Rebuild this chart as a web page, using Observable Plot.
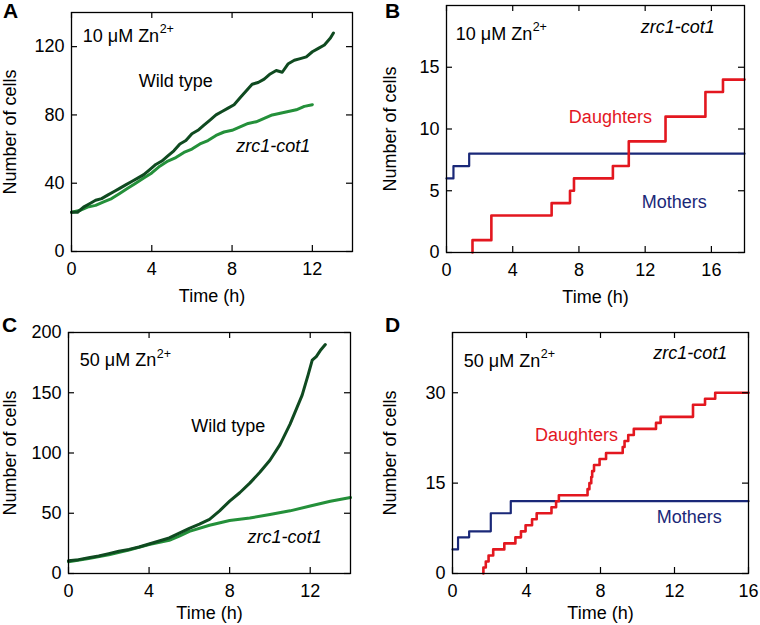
<!DOCTYPE html>
<html><head><meta charset="utf-8">
<script src="https://cdn.jsdelivr.net/npm/d3@7"></script>
<script src="https://cdn.jsdelivr.net/npm/@observablehq/plot@0.6"></script>
<style>
body{margin:0;background:#fff;}
#fig{position:relative;width:760px;height:625px;font-family:"Liberation Sans",Arial,sans-serif;overflow:hidden;}
.panel{position:absolute;}
.letter{position:absolute;font:bold 21px/21px "Liberation Sans",Arial,sans-serif;color:#000;}
</style></head><body><div id="fig"></div>
<script>
// ---------- Panel A: 10 µM Zn, growth curves ----------
const wtA_t = [0, 0.3, 0.6, 0.9, 1.2, 1.5, 1.8, 2.1, 2.4, 2.7, 3.0, 3.3, 3.6, 3.9, 4.2, 4.5, 4.8, 5.1, 5.4, 5.7, 6.0, 6.3, 6.6, 6.9, 7.2, 7.5, 7.8, 8.1, 8.4, 8.7, 9.0, 9.3, 9.6, 9.9, 10.2, 10.5, 10.8, 11.1, 11.4, 11.7, 12.0, 12.3, 12.6, 12.9, 13.05];
const wtA_n = [23, 23, 26, 28, 30, 31, 33, 35, 37, 39, 41, 43, 45, 48, 51, 53, 56, 59, 63, 65, 69, 71, 74, 77, 80, 82, 84, 86, 90, 94, 98, 99, 101, 104, 106, 105, 110, 112, 113, 114, 117, 119, 121, 125, 128];
const zrA_t = [0, 0.4, 0.8, 1.2, 1.6, 2.0, 2.4, 2.8, 3.2, 3.6, 4.0, 4.4, 4.8, 5.2, 5.6, 6.0, 6.4, 6.8, 7.2, 7.6, 8.0, 8.4, 8.8, 9.2, 9.6, 10.0, 10.4, 10.8, 11.2, 11.6, 12.0];
const zrA_n = [23, 24, 26, 27, 29, 31, 34, 37, 40, 43, 46, 50, 53, 55, 58, 60, 63, 65, 68, 70, 71, 73, 75, 76, 78, 80, 81, 82, 83, 85, 86];

// ---------- Panel B: 10 µM Zn, zrc1-cot1 mothers / daughters ----------
const dauB_t = [1.57, 1.57, 2.71, 6.35, 7.46, 7.70, 10.05, 11.01, 13.23, 15.64, 16.7, 18];
const dauB_n = [0, 1, 3, 4, 5, 6, 7, 9, 11, 13, 14, 14];
const momB_t = [0, 0.42, 1.37, 18];
const momB_n = [6, 7, 8, 8];

// ---------- Panel C: 50 µM Zn, growth curves ----------
const wtC_t = [0, 0.5, 1.0, 1.5, 2.0, 2.5, 3.0, 3.5, 4.0, 4.5, 5.0, 5.5, 6.0, 6.5, 7.0, 7.5, 8.0, 8.5, 9.0, 9.5, 10.0, 10.5, 11.0, 11.3, 11.6, 11.9, 12.1, 12.3, 12.5, 12.75];
const wtC_n = [10.5, 11.5, 13, 14.5, 16.5, 18.5, 20, 22, 24.5, 27, 29.5, 33.5, 37.5, 41, 45, 52, 60, 67, 75, 84, 94, 107, 124, 136, 148, 165, 177, 180, 185, 190];
const zrC_t = [0, 1, 2, 3, 4, 5, 5.5, 6, 7, 8, 9, 10, 11, 12, 13, 14];
const zrC_n = [9.7, 12.5, 15.5, 19.5, 24, 27.5, 31, 35, 40, 44, 46, 49, 52, 56, 60, 63];

// ---------- Panel D: 50 µM Zn, zrc1-cot1 mothers / daughters ----------
const dauD_t = [1.67, 1.67, 1.8, 1.95, 2.2, 2.8, 3.4, 3.7, 3.95, 4.3, 4.55, 5.35, 5.6, 5.75, 7.3, 7.4, 7.5, 7.55, 7.65, 7.95, 8.3, 9.2, 9.3, 9.5, 9.8, 11.0, 11.25, 13.0, 13.65, 14.2, 16];
const dauD_n = [0, 1, 2, 3, 4, 5, 6, 7, 8, 9, 10, 11, 12, 13, 14, 15, 16, 17, 18, 19, 20, 21, 22, 23, 24, 25, 26, 28, 29, 30, 30];
const momD_t = [0, 0.3, 0.9, 2.07, 3.15, 16];
const momD_n = [4, 6, 7, 10, 12, 12];

// ---------- ticks ----------
const xTicksA = [0, 4, 8, 12], yTicksA = [0, 40, 80, 120];
const xTicksB = [0, 4, 8, 12, 16], yTicksB = [0, 5, 10, 15];
const xTicksC = [0, 4, 8, 12], yTicksC = [0, 50, 100, 150, 200];
const xTicksD = [0, 4, 8, 12, 16], yTicksD = [0, 15, 30];

const WT = "#0f4a20", ZR = "#24903a", RED = "#e3171f", NAVY = "#1a2878";
const FONT = "Liberation Sans, Arial, sans-serif";

const zip = (t, n) => t.map((v, i) => ({t: v, n: n[i]}));

const ctx = document.createElement("canvas").getContext("2d");
function textW(s, size, style = "") { ctx.font = `${style} ${size}px "Liberation Sans"`; return ctx.measureText(s).width; }

function znLabel(x, y, base) {
  const w = textW(base, 18);
  return [
    Plot.text([{x, y, s: base}], {x: "x", y: "y", text: "s", textAnchor: "start", fontSize: 18, fill: "#000"}),
    Plot.text([{x, y, s: "2+"}], {x: "x", y: "y", text: "s", textAnchor: "start", fontSize: 12.5, dx: w + 0.5, dy: -7, fill: "#000"})
  ];
}
function label(x, y, s, color = "#000", italic = false) {
  return Plot.text([{x, y, s}], {x: "x", y: "y", text: "s", textAnchor: "middle", fontSize: 18, fill: color, fontStyle: italic ? "italic" : "normal"});
}

function panel({left, top, width, height, mL, mR, mT, mB, xDomain, yDomain, xTicks, yTicks, xLabelOffset, marks}) {
  const iw = width - mL - mR, ih = height - mT - mB;
  const chart = Plot.plot({
    width, height, marginLeft: mL, marginRight: mR, marginTop: mT, marginBottom: mB,
    style: {fontFamily: FONT, fontSize: "18px", color: "#000", background: "transparent", overflow: "visible"},
    x: {domain: xDomain},
    y: {domain: yDomain},
    marks: [
      ...marks,
      Plot.tickX(xTicks, {x: d => d, insetTop: ih - 6, stroke: "#000", strokeWidth: 1.2}),
      Plot.tickX(xTicks, {x: d => d, insetBottom: ih - 6, stroke: "#000", strokeWidth: 1.2}),
      Plot.tickY(yTicks, {y: d => d, insetRight: iw - 6, stroke: "#000", strokeWidth: 1.2}),
      Plot.tickY(yTicks, {y: d => d, insetLeft: iw - 6, stroke: "#000", strokeWidth: 1.2}),
      Plot.frame({stroke: "#000", strokeWidth: 1.3}),
      Plot.axisX({ticks: xTicks, tickSize: 0, tickPadding: 11, fontSize: 18, label: "Time (h)", labelAnchor: "center", labelArrow: "none", labelOffset: xLabelOffset}),
      Plot.axisY({ticks: yTicks, tickSize: 0, tickPadding: 7, fontSize: 18, label: "Number of cells", labelAnchor: "center", labelArrow: "none", labelOffset: mL - 3})
    ]
  });
  chart.classList.add("panel");
  chart.style.left = left + "px";
  chart.style.top = top + "px";
  document.getElementById("fig").appendChild(chart);
}

const lw = 3;

panel({
  left: 0, top: 0, width: 380, height: 310, mL: 71, mR: 28, mT: 12, mB: 59, xLabelOffset: 50,
  xDomain: [0, 14], yDomain: [0, 140], xTicks: xTicksA, yTicks: yTicksA,
  marks: [
    Plot.line(zip(zrA_t, zrA_n), {x: "t", y: "n", stroke: ZR, strokeWidth: lw}),
    Plot.line(zip(wtA_t, wtA_n), {x: "t", y: "n", stroke: WT, strokeWidth: lw}),
    ...znLabel(0.56, 126, "10 μM Zn"),
    label(5.2, 100, "Wild type"),
    label(10.05, 61.4, "zrc1-cot1", "#000", true)
  ]
});

panel({
  left: 380, top: 0, width: 380, height: 310, mL: 66, mR: 16, mT: 5, mB: 58, xLabelOffset: 50,
  xDomain: [0, 18], yDomain: [0, 20], xTicks: xTicksB, yTicks: yTicksB,
  marks: [
    Plot.line(zip(momB_t, momB_n), {x: "t", y: "n", stroke: NAVY, strokeWidth: 2.2, curve: "step-after"}),
    Plot.line(zip(dauB_t, dauB_n), {x: "t", y: "n", stroke: RED, strokeWidth: 2.6, curve: "step-after"}),
    ...znLabel(0.56, 17.7, "10 μM Zn"),
    label(13.97, 18.2, "zrc1-cot1", "#000", true),
    label(9.9, 10.93, "Daughters", RED),
    label(13.76, 4.05, "Mothers", NAVY)
  ]
});

panel({
  left: 0, top: 310, width: 380, height: 315, mL: 68, mR: 30, mT: 22, mB: 52, xLabelOffset: 45,
  xDomain: [0, 14], yDomain: [0, 200], xTicks: xTicksC, yTicks: yTicksC,
  marks: [
    Plot.line(zip(zrC_t, zrC_n), {x: "t", y: "n", stroke: ZR, strokeWidth: lw}),
    Plot.line(zip(wtC_t, wtC_n), {x: "t", y: "n", stroke: WT, strokeWidth: lw}),
    ...znLabel(0.56, 176.6, "50 μM Zn"),
    label(7.93, 121.9, "Wild type"),
    label(10.73, 30, "zrc1-cot1", "#000", true)
  ]
});

panel({
  left: 380, top: 310, width: 380, height: 315, mL: 72, mR: 12, mT: 22, mB: 52, xLabelOffset: 45,
  xDomain: [0, 16], yDomain: [0, 40], xTicks: xTicksD, yTicks: yTicksD,
  marks: [
    Plot.line(zip(momD_t, momD_n), {x: "t", y: "n", stroke: NAVY, strokeWidth: 2.2, curve: "step-after"}),
    Plot.line(zip(dauD_t, dauD_n), {x: "t", y: "n", stroke: RED, strokeWidth: 2.6, curve: "step-after"}),
    ...znLabel(0.61, 35.3, "50 μM Zn"),
    label(12.85, 36.5, "zrc1-cot1", "#000", true),
    label(6.7, 22.9, "Daughters", RED),
    label(12.8, 9.3, "Mothers", NAVY)
  ]
});

const letters = [["A", 3, 0], ["B", 385, 0], ["C", 2, 314], ["D", 385, 314]];
for (const [s, x, y] of letters) {
  const d = document.createElement("div");
  d.className = "letter"; d.textContent = s;
  d.style.left = x + "px"; d.style.top = y + "px";
  document.getElementById("fig").appendChild(d);
}
</script>
</body></html>
